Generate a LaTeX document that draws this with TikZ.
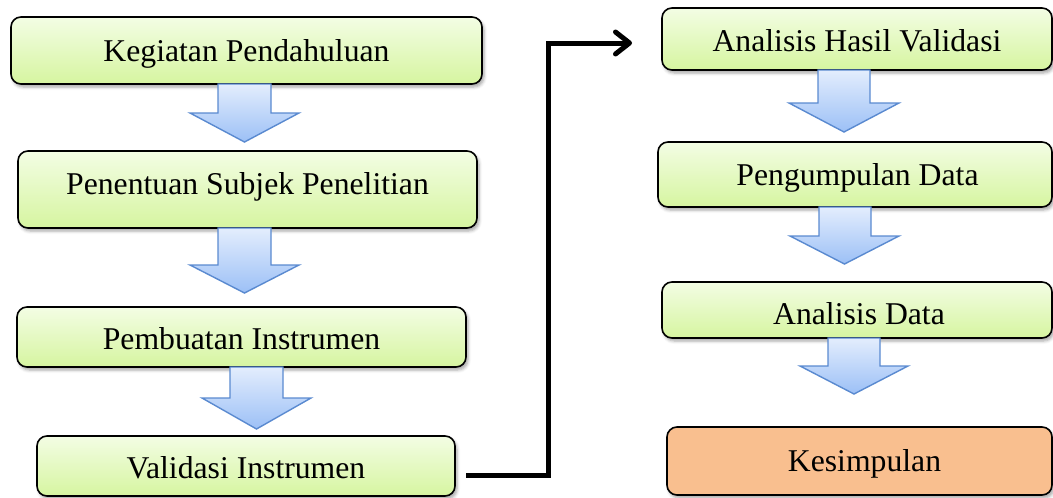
\documentclass[tikz,border=0pt]{standalone}
\usepackage{fontspec}
\setmainfont{Liberation Serif}
\usetikzlibrary{shadows.blur,arrows.meta,calc}
\definecolor{gtop}{HTML}{F3FDE4}
\definecolor{gbot}{HTML}{D6F5A0}
\definecolor{kes}{HTML}{F9BF8F}
\definecolor{atop}{HTML}{E3EDFD}
\definecolor{abot}{HTML}{9CC0F6}
\definecolor{aedge}{HTML}{5A8AD0}
\tikzset{
  stepbox/.style={draw=black, line width=1.6pt, rounded corners=10pt,
    top color=gtop, bottom color=gbot, inner sep=0pt,
    blur shadow={shadow xshift=2pt, shadow yshift=-3pt, shadow blur radius=3pt, shadow opacity=35}},
  endbox/.style={stepbox, top color=kes, bottom color=kes},
  txt/.style={inner sep=0pt, text height=21pt, text depth=0pt,
    font=\fontsize{31.7}{38}\selectfont},
  barrow/.style={draw=aedge, line width=1.4pt, line join=miter, top color=atop, bottom color=abot},
  conn/.style={draw=black, line width=5pt, -{Straight Barb[length=14pt,width=22pt,round]}}
}
\newcommand\blockarr[7]{%
  \path[barrow] (#1,-#3) -- (#1,-#4) -- (#5,-#4) -- ({(#5+#6)/2},-#7) -- (#6,-#4) -- (#2,-#4) -- (#2,-#3) -- cycle;}
\begin{document}
\begin{tikzpicture}[x=1pt,y=1pt]
\useasboundingbox (0,0) rectangle (1053,-498);
% left column
\node[stepbox, minimum width=471pt, minimum height=67pt] (b1) at (246.5,-50.5) {};
\node[stepbox, minimum width=459pt, minimum height=77pt] (b2) at (247.5,-189.5) {};
\node[stepbox, minimum width=449pt, minimum height=60pt] (b3) at (241.5,-337) {};
\node[stepbox, minimum width=418pt, minimum height=60pt] (b4) at (246,-466) {};
% right column
\node[stepbox, minimum width=390pt, minimum height=62pt] (r1) at (857,-39) {};
\node[stepbox, minimum width=394pt, minimum height=65pt] (r2) at (855,-174.5) {};
\node[stepbox, minimum width=390pt, minimum height=56pt] (r3) at (857,-310) {};
\node[endbox, minimum width=385pt, minimum height=68pt] (r4) at (859.5,-461) {};
% texts
\node[txt] (t1) at ($(b1)+(0,-0.5)$) {Kegiatan Pendahuluan};
\node[txt] (t2) at ($(b2)+(0,6)$) {Penentuan Subjek Penelitian};
\node[txt] (t3) at ($(b3)+(0,-2)$) {Pembuatan Instrumen};
\node[txt] (t4) at ($(b4)+(0,-2)$) {Validasi Instrumen};
\node[txt] (t5) at ($(r1)+(0,-2)$) {Analisis Hasil Validasi};
\node[txt] (t6) at ($(r2)+(2.5,0)$) {Pengumpulan Data};
\node[txt] (t7) at ($(r3)+(2,-3.5)$) {Analisis Data};
\node[txt] (t8) at ($(r4)+(5,0.5)$) {Kesimpulan};
% block arrows
\blockarr{218}{271}{84}{113}{190}{299}{142}
\blockarr{218}{271}{228}{265}{190}{299}{293}
\blockarr{230}{283}{367}{398}{202}{311}{429}
\blockarr{818}{870}{70}{103}{789}{899}{132}
\blockarr{819}{871}{207}{236}{790}{899}{264}
\blockarr{828}{880}{338}{366}{800}{908}{394}
% connector
\coordinate (cs) at (466,-475);
\coordinate (mid) at (548,0);
\coordinate (ce) at (632,-43);
\draw[conn] (cs) -- (cs -| mid) -- (mid |- ce) -- (ce);
\end{tikzpicture}
\end{document}
